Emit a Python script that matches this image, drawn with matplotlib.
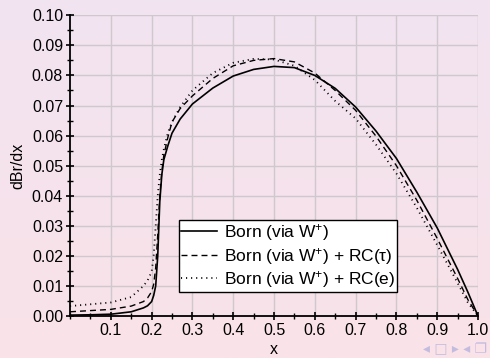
import numpy as np
import matplotlib
matplotlib.use('Agg')
import matplotlib.pyplot as plt
from matplotlib.ticker import MultipleLocator

# Values
x = [0.0, 0.05, 0.10, 0.15, 0.18, 0.19, 0.20, 0.205, 0.21, 0.215, 0.22, 0.225, 0.23, 0.24,
     0.25, 0.27, 0.30, 0.35, 0.40, 0.45, 0.50, 0.55, 0.60, 0.65, 0.70, 0.75, 0.80, 0.85,
     0.90, 0.95, 0.975, 1.00]
born = [0.0003, 0.0004, 0.0006, 0.0014, 0.0027, 0.0034, 0.0048, 0.0068, 0.0100, 0.0200,
        0.0380, 0.0470, 0.0520, 0.0567, 0.0608, 0.0655, 0.0705, 0.0758, 0.0798, 0.0820,
        0.0830, 0.0826, 0.0800, 0.0757, 0.0695, 0.0615, 0.0524, 0.0412, 0.0293, 0.0155,
        0.0080, 0.0]
born_rc_tau = [0.0014, 0.0018, 0.0022, 0.0033, 0.0048, 0.0060, 0.0081, 0.0105, 0.0160, 0.0270,
               0.0400, 0.0480, 0.0535, 0.0595, 0.0645, 0.0690, 0.0732, 0.0790, 0.0832, 0.0850,
               0.0856, 0.0845, 0.0808, 0.0750, 0.0684, 0.0598, 0.0500, 0.0385, 0.0258, 0.0125,
               0.0055, 0.0]
born_rc_e = [0.0033, 0.0039, 0.0045, 0.0063, 0.0100, 0.0118, 0.0147, 0.0200, 0.0300, 0.0400,
             0.0470, 0.0520, 0.0555, 0.0610, 0.0645, 0.0695, 0.0750, 0.0808, 0.0842, 0.0855,
             0.0853, 0.0832, 0.0785, 0.0715, 0.0657, 0.0570, 0.0474, 0.0360, 0.0236, 0.0110,
             0.0045, 0.0]

xticks = [0.1, 0.2, 0.3, 0.4, 0.5, 0.6, 0.7, 0.8, 0.9, 1.0]
yticks = [0.00, 0.01, 0.02, 0.03, 0.04, 0.05, 0.06, 0.07, 0.08, 0.09, 0.10]

plt.rcParams['font.family'] = ['Liberation Sans', 'DejaVu Sans']
plt.rcParams['mathtext.fontset'] = 'custom'
plt.rcParams['mathtext.rm'] = 'Liberation Sans'
plt.rcParams['mathtext.it'] = 'Liberation Sans:italic'

fig = plt.figure(figsize=(4.9, 3.58), dpi=100)

# gradient background (lavender top -> pink bottom)
bg = fig.add_axes([0, 0, 1, 1], zorder=-10)
top = np.array([241, 228, 241]) / 255
bot = np.array([250, 226, 232]) / 255
t = np.linspace(0, 1, 256)[:, None]
grad = top[None, :] * (1 - t) + bot[None, :] * t
bg.imshow(grad[:, None, :], aspect='auto', extent=[0, 1, 0, 1])
bg.axis('off')

ax = fig.add_axes([0.1429, 0.1173, 0.8326, 0.84])
ax.patch.set_alpha(0)

ax.plot(x, born, color='black', lw=1.2, ls='-', label='Born (via W$^{+}$)')
ax.plot(x, born_rc_tau, color='black', lw=1.0, ls=(0, (4.3, 2.9)), label='Born (via W$^{+}$) + RC(τ)')
ax.plot(x, born_rc_e, color='black', lw=1.3, ls=(0, (0.6, 2.2)), label='Born (via W$^{+}$) + RC(e)')

ax.set_xlim(0, 1.0)
ax.set_ylim(0, 0.10)
ax.set_xticks(xticks)
ax.set_xticklabels(['%.1f' % v for v in xticks])
ax.set_yticks(yticks)
ax.set_yticklabels(['%.2f' % v for v in yticks])
ax.xaxis.set_minor_locator(MultipleLocator(0.05))
ax.yaxis.set_minor_locator(MultipleLocator(0.005))
ax.tick_params(which='major', direction='inout', length=6, width=1.2, labelsize=11.5, pad=2)
ax.tick_params(which='minor', direction='inout', length=4, width=1.0)
ax.grid(True, which='major', color='#cfc8cc', lw=1.0)

for s in ['top', 'right']:
    ax.spines[s].set_visible(False)
for s in ['left', 'bottom']:
    ax.spines[s].set_linewidth(1.3)

ax.set_xlabel('x', fontsize=11.5, labelpad=3)
ax.set_ylabel('dBr/dx', fontsize=11.5, labelpad=5)

leg = ax.legend(loc='lower left', bbox_to_anchor=(0.267, 0.08), fontsize=12.5, frameon=True,
                fancybox=False, edgecolor='black', framealpha=1, handlelength=2.1,
                borderpad=0.1, labelspacing=0.15, handletextpad=0.4, borderaxespad=0)
leg.get_frame().set_linewidth(1.0)

# beamer navigation symbols
fig.text(0.995, 0.005, '◂ □ ▸ ◂ ❐', ha='right', va='bottom', fontsize=10,
         color='#c4bce0', family=['DejaVu Sans'])

fig.savefig('out.png', dpi=100)
